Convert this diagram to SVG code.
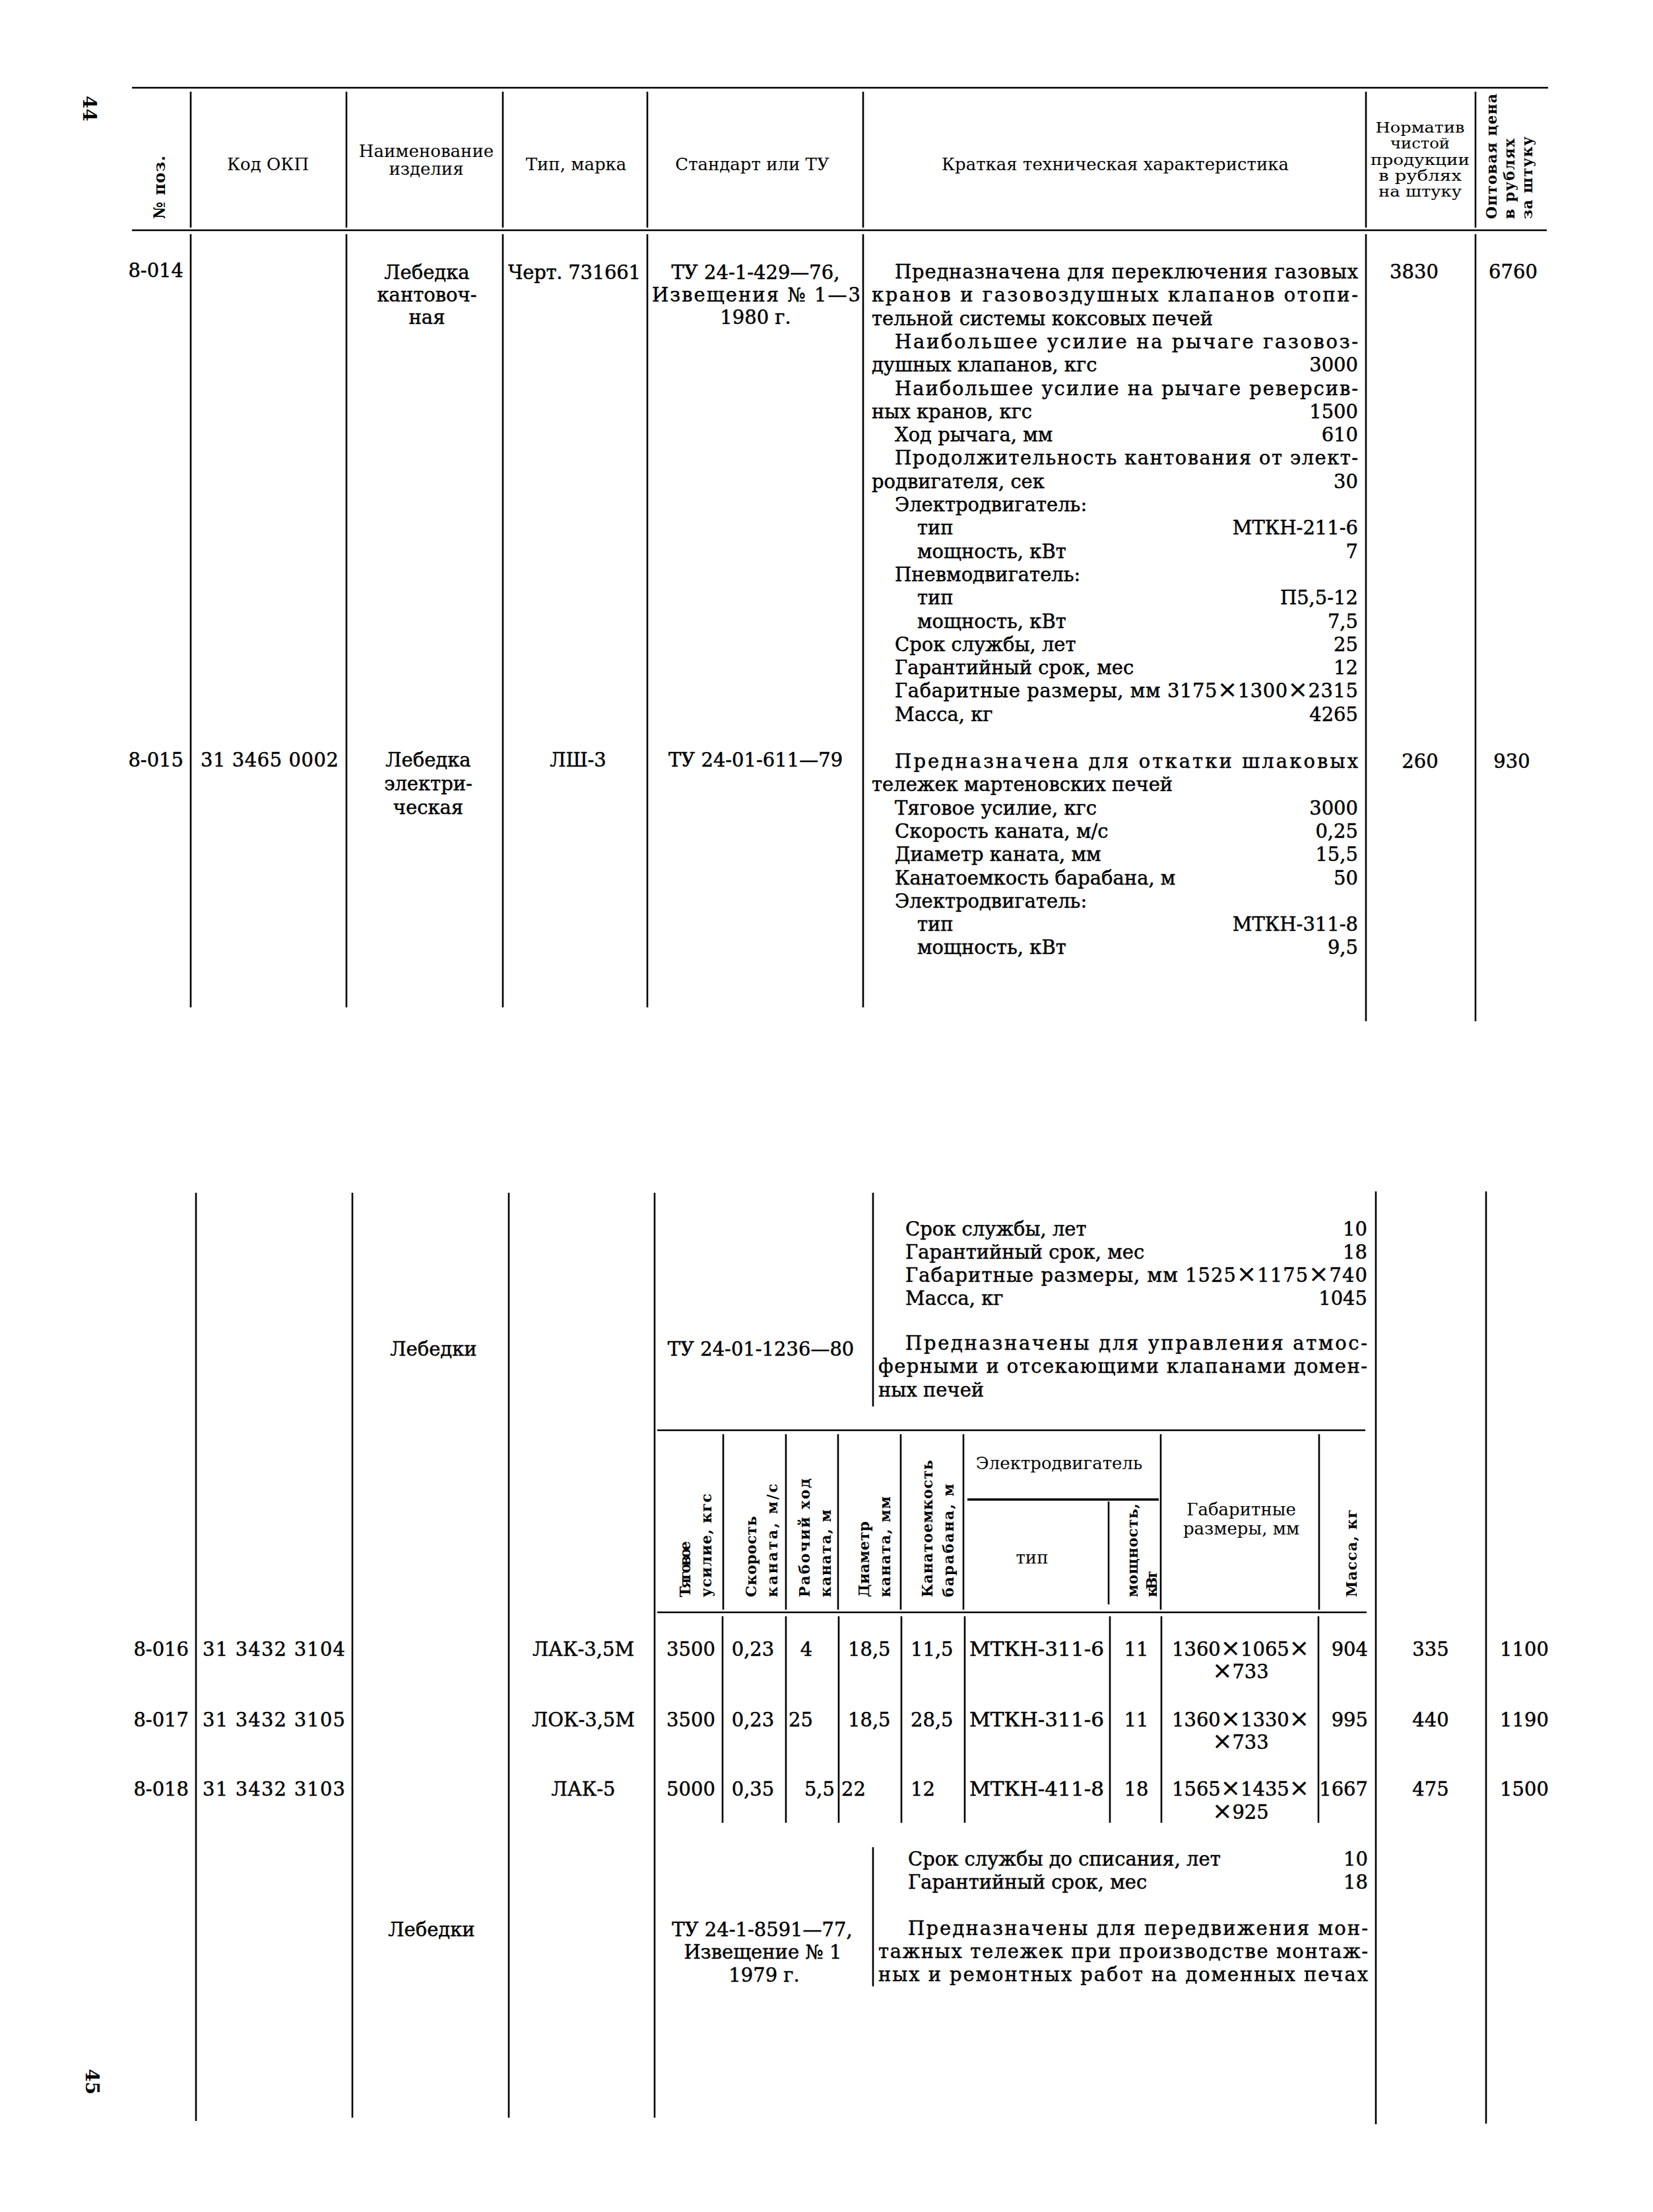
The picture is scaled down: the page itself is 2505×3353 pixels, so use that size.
<svg xmlns="http://www.w3.org/2000/svg" width="2505" height="3353" viewBox="0 0 2505 3353">
<style>
text{font-family:"DejaVu Serif","Liberation Serif",serif;fill:#000}
.b{font-size:29px}
.b text{stroke:#000;stroke-width:0.5}
.h{font-size:26px}
.hs{font-size:22px}
.r{font-size:22px;font-weight:bold}
.pg{font-size:28px;font-weight:bold}
.m{text-anchor:middle}
.e{text-anchor:end}
.x{font-size:36px}
.ln line{stroke:#000;stroke-width:2.6}
.rule{stroke:#000;stroke-width:4.5}
</style>
<rect width="2505" height="3353" fill="#fff"/>
<g id="connectors" class="ln">
<line class="rule" x1="200" y1="133" x2="2346" y2="133"/>
<line class="rule" x1="200" y1="349" x2="2344" y2="349"/>
<line x1="289" y1="139" x2="289" y2="345"/><line x1="525" y1="139" x2="525" y2="345"/>
<line x1="762" y1="139" x2="762" y2="345"/><line x1="981" y1="139" x2="981" y2="345"/>
<line x1="1308" y1="139" x2="1308" y2="345"/><line x1="2070" y1="139" x2="2070" y2="345"/>
<line x1="2236" y1="139" x2="2236" y2="345"/>
<line x1="289" y1="355" x2="289" y2="1527"/><line x1="525" y1="355" x2="525" y2="1527"/>
<line x1="762" y1="355" x2="762" y2="1527"/><line x1="981" y1="355" x2="981" y2="1527"/>
<line x1="1308" y1="355" x2="1308" y2="1527"/><line x1="2070" y1="355" x2="2070" y2="1548"/>
<line x1="2236" y1="355" x2="2236" y2="1548"/>
<line x1="297" y1="1808" x2="297" y2="3215"/><line x1="534" y1="1808" x2="534" y2="3210"/>
<line x1="771" y1="1808" x2="771" y2="3210"/><line x1="992" y1="1808" x2="992" y2="3210"/>
<line x1="2085" y1="1806" x2="2085" y2="3220"/><line x1="2252" y1="1806" x2="2252" y2="3219"/>
<line x1="1323" y1="1808" x2="1323" y2="2132"/><line x1="1323" y1="2800" x2="1323" y2="3011"/>
<line class="rule" x1="996" y1="2168" x2="2069" y2="2168"/>
<line class="rule" x1="996" y1="2444" x2="2071" y2="2444"/>
<line x1="1096" y1="2174" x2="1096" y2="2440"/><line x1="1191" y1="2174" x2="1191" y2="2440"/>
<line x1="1270" y1="2174" x2="1270" y2="2440"/><line x1="1365" y1="2174" x2="1365" y2="2440"/>
<line x1="1460" y1="2174" x2="1460" y2="2440"/><line x1="1759" y1="2174" x2="1759" y2="2440"/>
<line x1="1999" y1="2174" x2="1999" y2="2440"/>
<line x1="1680" y1="2276" x2="1680" y2="2432"/>
<line x1="1466" y1="2273" x2="1756" y2="2273" style="stroke-width:3.5"/>
<line x1="1095" y1="2450" x2="1095" y2="2763"/><line x1="1191" y1="2450" x2="1191" y2="2763"/>
<line x1="1271" y1="2450" x2="1271" y2="2763"/><line x1="1366" y1="2450" x2="1366" y2="2763"/>
<line x1="1462" y1="2450" x2="1462" y2="2763"/><line x1="1682" y1="2450" x2="1682" y2="2763"/>
<line x1="1760" y1="2450" x2="1760" y2="2763"/><line x1="1998" y1="2450" x2="1998" y2="2763"/>
</g>

<g id="page-numbers">
<text class="pg" transform="translate(126,145) rotate(90)">44</text>
<text class="pg" transform="translate(130,3136) rotate(90)">45</text>
</g>

<g id="header">
<text class="r" transform="translate(250,332) rotate(-90)" textLength="96" lengthAdjust="spacing" style="font-size:24px">№ поз.</text>
<text class="h m" x="406" y="258">Код ОКП</text>
<text class="h m" x="646" y="238">Наименование</text>
<text class="h m" x="646" y="265">изделия</text>
<text class="h m" x="873" y="258">Тип, марка</text>
<text class="h m" x="1140" y="258">Стандарт или ТУ</text>
<text class="h m" x="1690" y="258">Краткая техническая характеристика</text>
<text class="hs m" x="2152" y="201" textLength="135" lengthAdjust="spacingAndGlyphs">Норматив</text>
<text class="hs m" x="2152" y="225" textLength="90" lengthAdjust="spacingAndGlyphs">чистой</text>
<text class="hs m" x="2152" y="250" textLength="150" lengthAdjust="spacingAndGlyphs">продукции</text>
<text class="hs m" x="2152" y="274" textLength="126" lengthAdjust="spacingAndGlyphs">в рублях</text>
<text class="hs m" x="2152" y="298" textLength="126" lengthAdjust="spacingAndGlyphs">на штуку</text>
<text class="r" transform="translate(2268,332) rotate(-90)" textLength="190" lengthAdjust="spacing">Оптовая цена</text>
<text class="r" transform="translate(2295,332) rotate(-90)" textLength="122" lengthAdjust="spacing">в рублях</text>
<text class="r" transform="translate(2322,332) rotate(-90)" textLength="125" lengthAdjust="spacing">за штуку</text>
</g>

<g id="row-8-014" class="b">
<text class="e" x="278" y="420">8-014</text>
<text class="m" x="647" y="423">Лебедка</text>
<text class="m" x="647" y="457">кантовоч-</text>
<text class="m" x="647" y="491">ная</text>
<text x="770" y="423" textLength="201" lengthAdjust="spacing">Черт. 731661</text>
<text class="m" x="1145" y="423">ТУ 24-1-429—76,</text>
<text class="m" x="1146" y="457" textLength="316" lengthAdjust="spacing">Извещения № 1—3</text>
<text class="m" x="1145" y="491">1980 г.</text>
<text x="1356" y="422" textLength="702" lengthAdjust="spacing">Предназначена для переключения газовых</text>
<text x="1321" y="457" textLength="737" lengthAdjust="spacing">кранов и газовоздушных клапанов отопи-</text>
<text x="1321" y="493">тельной системы коксовых печей</text>
<text x="1356" y="528" textLength="702" lengthAdjust="spacing">Наибольшее усилие на рычаге газовоз-</text>
<text x="1321" y="563">душных клапанов, кгс</text><text class="e" x="2058" y="563">3000</text>
<text x="1356" y="599" textLength="702" lengthAdjust="spacing">Наибольшее усилие на рычаге реверсив-</text>
<text x="1321" y="634">ных кранов, кгс</text><text class="e" x="2058" y="634">1500</text>
<text x="1356" y="669">Ход рычага, мм</text><text class="e" x="2058" y="669">610</text>
<text x="1356" y="704" textLength="702" lengthAdjust="spacing">Продолжительность кантования от элект-</text>
<text x="1321" y="740">родвигателя, сек</text><text class="e" x="2058" y="740">30</text>
<text x="1356" y="775">Электродвигатель:</text>
<text x="1390" y="810">тип</text><text class="e" x="2058" y="810">МТКН-211-6</text>
<text x="1390" y="846">мощность, кВт</text><text class="e" x="2058" y="846">7</text>
<text x="1356" y="881">Пневмодвигатель:</text>
<text x="1390" y="916">тип</text><text class="e" x="2058" y="916">П5,5-12</text>
<text x="1390" y="952">мощность, кВт</text><text class="e" x="2058" y="952">7,5</text>
<text x="1356" y="987">Срок службы, лет</text><text class="e" x="2058" y="987">25</text>
<text x="1356" y="1022">Гарантийный срок, мес</text><text class="e" x="2058" y="1022">12</text>
<text x="1356" y="1057" textLength="702" lengthAdjust="spacing">Габаритные размеры, мм 3175<tspan class="x">×</tspan>1300<tspan class="x">×</tspan>2315</text>
<text x="1356" y="1093">Масса, кг</text><text class="e" x="2058" y="1093">4265</text>
<text class="m" x="2143" y="422">3830</text>
<text class="m" x="2293" y="422">6760</text>
</g>

<g id="row-8-015" class="b">
<text class="e" x="278" y="1162">8-015</text>
<text x="304" y="1162" textLength="209" lengthAdjust="spacing">31 3465 0002</text>
<text class="m" x="649" y="1162">Лебедка</text>
<text class="m" x="649" y="1198">электри-</text>
<text class="m" x="649" y="1234">ческая</text>
<text class="m" x="876" y="1162">ЛШ-3</text>
<text class="m" x="1145" y="1162">ТУ 24-01-611—79</text>
<text x="1356" y="1164" textLength="702" lengthAdjust="spacing">Предназначена для откатки шлаковых</text>
<text x="1321" y="1199">тележек мартеновских печей</text>
<text x="1356" y="1235">Тяговое усилие, кгс</text><text class="e" x="2058" y="1235">3000</text>
<text x="1356" y="1270">Скорость каната, м/с</text><text class="e" x="2058" y="1270">0,25</text>
<text x="1356" y="1305">Диаметр каната, мм</text><text class="e" x="2058" y="1305">15,5</text>
<text x="1356" y="1341">Канатоемкость барабана, м</text><text class="e" x="2058" y="1341">50</text>
<text x="1356" y="1376">Электродвигатель:</text>
<text x="1390" y="1411">тип</text><text class="e" x="2058" y="1411">МТКН-311-8</text>
<text x="1390" y="1446">мощность, кВт</text><text class="e" x="2058" y="1446">9,5</text>
<text class="m" x="2152" y="1164">260</text>
<text class="m" x="2291" y="1164">930</text>
</g>

<g id="group-lebedki-1" class="b">
<text x="1372" y="1873">Срок службы, лет</text><text class="e" x="2072" y="1873">10</text>
<text x="1372" y="1908">Гарантийный срок, мес</text><text class="e" x="2072" y="1908">18</text>
<text x="1372" y="1943" textLength="700" lengthAdjust="spacing">Габаритные размеры, мм 1525<tspan class="x">×</tspan>1175<tspan class="x">×</tspan>740</text>
<text x="1372" y="1978">Масса, кг</text><text class="e" x="2072" y="1978">1045</text>
<text class="m" x="657" y="2055">Лебедки</text>
<text class="m" x="1153" y="2055">ТУ 24-01-1236—80</text>
<text x="1372" y="2046" textLength="700" lengthAdjust="spacing">Предназначены для управления атмос-</text>
<text x="1331" y="2081" textLength="741" lengthAdjust="spacing">ферными и отсекающими клапанами домен-</text>
<text x="1331" y="2117">ных печей</text>
</g>

<g id="subtable-header">
<text class="r" transform="translate(1046,2421) rotate(-90)" textLength="85" lengthAdjust="spacing">Тяговое</text>
<text class="r" transform="translate(1078,2421) rotate(-90)" textLength="157" lengthAdjust="spacing">усилие, кгс</text>
<text class="r" transform="translate(1146,2421) rotate(-90)" textLength="123" lengthAdjust="spacing">Скорость</text>
<text class="r" transform="translate(1178,2421) rotate(-90)" textLength="172" lengthAdjust="spacing">каната, м/с</text>
<text class="r" transform="translate(1227,2421) rotate(-90)" textLength="180" lengthAdjust="spacing">Рабочий ход</text>
<text class="r" transform="translate(1259,2421) rotate(-90)" textLength="133" lengthAdjust="spacing">каната, м</text>
<text class="r" transform="translate(1317,2421) rotate(-90)" textLength="115" lengthAdjust="spacing">Диаметр</text>
<text class="r" transform="translate(1349,2421) rotate(-90)" textLength="153" lengthAdjust="spacing">каната, мм</text>
<text class="r" transform="translate(1413,2421) rotate(-90)" textLength="208" lengthAdjust="spacing">Канатоемкость</text>
<text class="r" transform="translate(1445,2421) rotate(-90)" textLength="172" lengthAdjust="spacing">барабана, м</text>
<text class="h m" x="1605" y="2227">Электродвигатель</text>
<text class="h m" x="1564" y="2370">тип</text>
<text class="r" transform="translate(1724,2421) rotate(-90)" textLength="142" lengthAdjust="spacing">мощность,</text>
<text class="r" transform="translate(1753,2421) rotate(-90)" textLength="40" lengthAdjust="spacing">кВт</text>
<text class="h m" x="1881" y="2297">Габаритные</text>
<text class="h m" x="1881" y="2326">размеры, мм</text>
<text class="r" transform="translate(2056,2421) rotate(-90)" textLength="133" lengthAdjust="spacing">Масса, кг</text>
</g>

<g id="row-8-016" class="b">
<text class="e" x="286" y="2510">8-016</text>
<text x="307" y="2510" textLength="216" lengthAdjust="spacing">31 3432 3104</text>
<text class="m" x="884" y="2510">ЛАК-3,5М</text>
<text class="m" x="1047" y="2510">3500</text>
<text class="m" x="1141" y="2510">0,23</text>
<text class="m" x="1222" y="2510">4</text>
<text x="1285" y="2510">18,5</text>
<text x="1380" y="2510">11,5</text>
<text x="1469" y="2510" textLength="204" lengthAdjust="spacingAndGlyphs">МТКН-311-6</text>
<text class="m" x="1722" y="2510">11</text>
<text class="m" x="1880" y="2510" textLength="208" lengthAdjust="spacingAndGlyphs">1360<tspan class="x">×</tspan>1065<tspan class="x">×</tspan></text>
<text class="m" x="1880" y="2544"><tspan class="x">×</tspan>733</text>
<text class="e" x="2073" y="2510">904</text>
<text class="m" x="2168" y="2510">335</text>
<text class="m" x="2310" y="2510">1100</text>
</g>

<g id="row-8-017" class="b">
<text class="e" x="286" y="2617">8-017</text>
<text x="307" y="2617" textLength="216" lengthAdjust="spacing">31 3432 3105</text>
<text class="m" x="884" y="2617">ЛОК-3,5М</text>
<text class="m" x="1047" y="2617">3500</text>
<text class="m" x="1141" y="2617">0,23</text>
<text x="1195" y="2617">25</text>
<text x="1285" y="2617">18,5</text>
<text x="1380" y="2617">28,5</text>
<text x="1469" y="2617" textLength="204" lengthAdjust="spacingAndGlyphs">МТКН-311-6</text>
<text class="m" x="1722" y="2617">11</text>
<text class="m" x="1880" y="2617" textLength="208" lengthAdjust="spacingAndGlyphs">1360<tspan class="x">×</tspan>1330<tspan class="x">×</tspan></text>
<text class="m" x="1880" y="2651"><tspan class="x">×</tspan>733</text>
<text class="e" x="2073" y="2617">995</text>
<text class="m" x="2168" y="2617">440</text>
<text class="m" x="2310" y="2617">1190</text>
</g>

<g id="row-8-018" class="b">
<text class="e" x="286" y="2722">8-018</text>
<text x="307" y="2722" textLength="216" lengthAdjust="spacing">31 3432 3103</text>
<text class="m" x="884" y="2722">ЛАК-5</text>
<text class="m" x="1047" y="2722">5000</text>
<text class="m" x="1141" y="2722">0,35</text>
<text class="e" x="1265" y="2722">5,5</text>
<text x="1275" y="2722">22</text>
<text x="1380" y="2722">12</text>
<text x="1469" y="2722" textLength="204" lengthAdjust="spacingAndGlyphs">МТКН-411-8</text>
<text class="m" x="1722" y="2722">18</text>
<text class="m" x="1880" y="2722" textLength="208" lengthAdjust="spacingAndGlyphs">1565<tspan class="x">×</tspan>1435<tspan class="x">×</tspan></text>
<text class="m" x="1880" y="2757"><tspan class="x">×</tspan>925</text>
<text class="e" x="2073" y="2722">1667</text>
<text class="m" x="2168" y="2722">475</text>
<text class="m" x="2310" y="2722">1500</text>
</g>

<g id="group-lebedki-2" class="b">
<text x="1376" y="2828">Срок службы до списания, лет</text><text class="e" x="2073" y="2828">10</text>
<text x="1376" y="2863">Гарантийный срок, мес</text><text class="e" x="2073" y="2863">18</text>
<text class="m" x="654" y="2935">Лебедки</text>
<text class="m" x="1155" y="2935">ТУ 24-1-8591—77,</text>
<text class="m" x="1156" y="2969">Извещение № 1</text>
<text class="m" x="1158" y="3004">1979 г.</text>
<text x="1376" y="2933" textLength="697" lengthAdjust="spacing">Предназначены для передвижения мон-</text>
<text x="1331" y="2968" textLength="742" lengthAdjust="spacing">тажных тележек при производстве монтаж-</text>
<text x="1331" y="3003" textLength="742" lengthAdjust="spacing">ных и ремонтных работ на доменных печах</text>
</g>
</svg>
